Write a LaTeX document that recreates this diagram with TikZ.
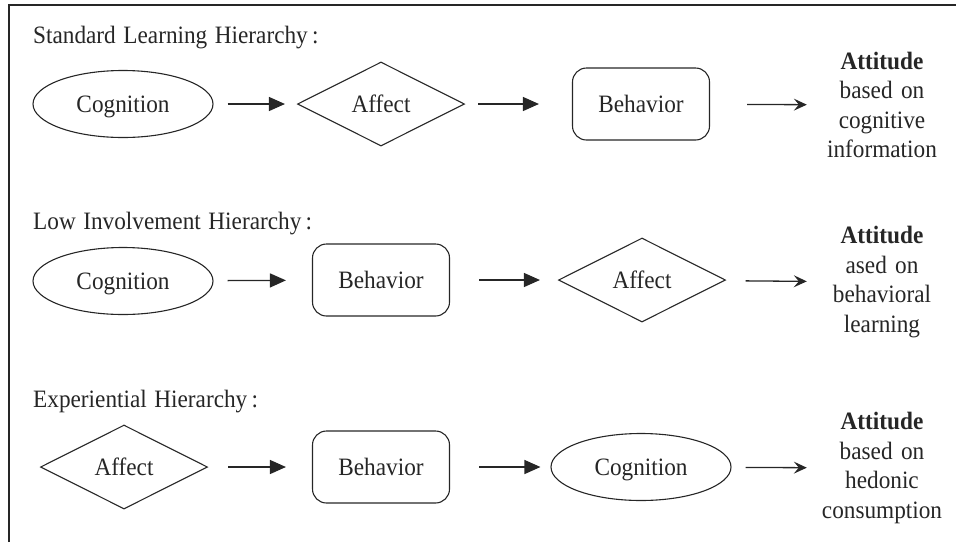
\documentclass[tikz,border=0pt]{standalone}
\usepackage{fontspec}
\setmainfont[FakeStretch = 0.93, WordSpace = 1.3]{Liberation Serif}
\usetikzlibrary{shapes.geometric,arrows.meta}
\definecolor{ink}{gray}{0.15}

\begin{document}
\begin{tikzpicture}[
  x = 1pt, y = -1pt,
  every node/.style = {font = \fontsize{25}{29.5}\selectfont, text = ink, inner sep = 0pt},
  cog/.style = {draw = ink, ellipse, text depth = 0pt, line width = 1.1pt, minimum width = 180pt, minimum height = 67pt},
  aff/.style = {draw = ink, diamond, aspect = 2, line width = 1.1pt, minimum width = 167pt, minimum height = 84pt},
  beh/.style = {draw = ink, rectangle, rounded corners = 14pt, line width = 1.1pt, minimum width = 137pt, minimum height = 72pt},
  att/.style = {align = center, text width = 130pt},
  title/.style = {anchor = west},
  fillarr/.style = {draw = ink, line width = 1.3pt, -{Triangle[length = 16pt, width = 14pt]}},
  openarr/.style = {draw = ink, line width = 1.3pt, -{Stealth[length = 13pt, width = 12pt, inset = 5pt]}},
  ]
  \useasboundingbox (0,0) rectangle (956,542);
  \draw [ink, line width = 1.5pt] (9,542) -- (9,5) -- (956,5);

  % standard learning hierarchy
  \node [title] (t1) at (33,38) {Standard Learning Hierarchy\,:};
  \node [cog] (cog1) at (123,104) {Cognition};
  \node [aff] (aff1) at (381,104) {Affect};
  \node [beh] (beh1) at (641,104) {Behavior};
  \node [att] (att1) at (882,105) {\textbf{Attitude}\\based on\\cognitive\\information};
  \draw [fillarr, shorten <= 14pt, shorten >= 12pt] (cog1) -- (aff1);
  \draw [fillarr, shorten <= 13pt, shorten >= 33pt] (aff1) -- (beh1);
  \draw [openarr, shorten <= 37pt, shorten >= 10pt] (beh1) -- (att1);

  % low involvement hierarchy
  \node [title] (t2) at (33,224) {Low Involvement Hierarchy\,:};
  \node [cog] (cog2) at (123,281) {Cognition};
  \node [beh] (beh2) at (381,280) {Behavior};
  \node [aff] (aff2) at (642,280) {Affect};
  \node [att] (att2) at (882,282) {\textbf{Attitude}\\ased on\\behavioral\\learning};
  \draw [fillarr, shorten <= 14pt, shorten >= 26pt] (cog2) -- (beh2);
  \draw [fillarr, shorten <= 29pt, shorten >= 18pt] (beh2) -- (aff2);
  \draw [openarr, shorten <= 21pt, shorten >= 10pt] (aff2) -- (att2);

  % experiential hierarchy
  \node [title] (t3) at (33,402) {Experiential Hierarchy\,:};
  \node [aff] (aff3) at (124,467) {Affect};
  \node [beh] (beh3) at (381,467) {Behavior};
  \node [cog] (cog3) at (641,467) {Cognition};
  \node [att] (att3) at (882,468) {\textbf{Attitude}\\based on\\hedonic\\consumption};
  \draw [fillarr, shorten <= 20pt, shorten >= 26pt] (aff3) -- (beh3);
  \draw [fillarr, shorten <= 29pt, shorten >= 10pt] (beh3) -- (cog3);
  \draw [openarr, shorten <= 14pt, shorten >= 10pt] (cog3) -- (att3);
\end{tikzpicture}
\end{document}
